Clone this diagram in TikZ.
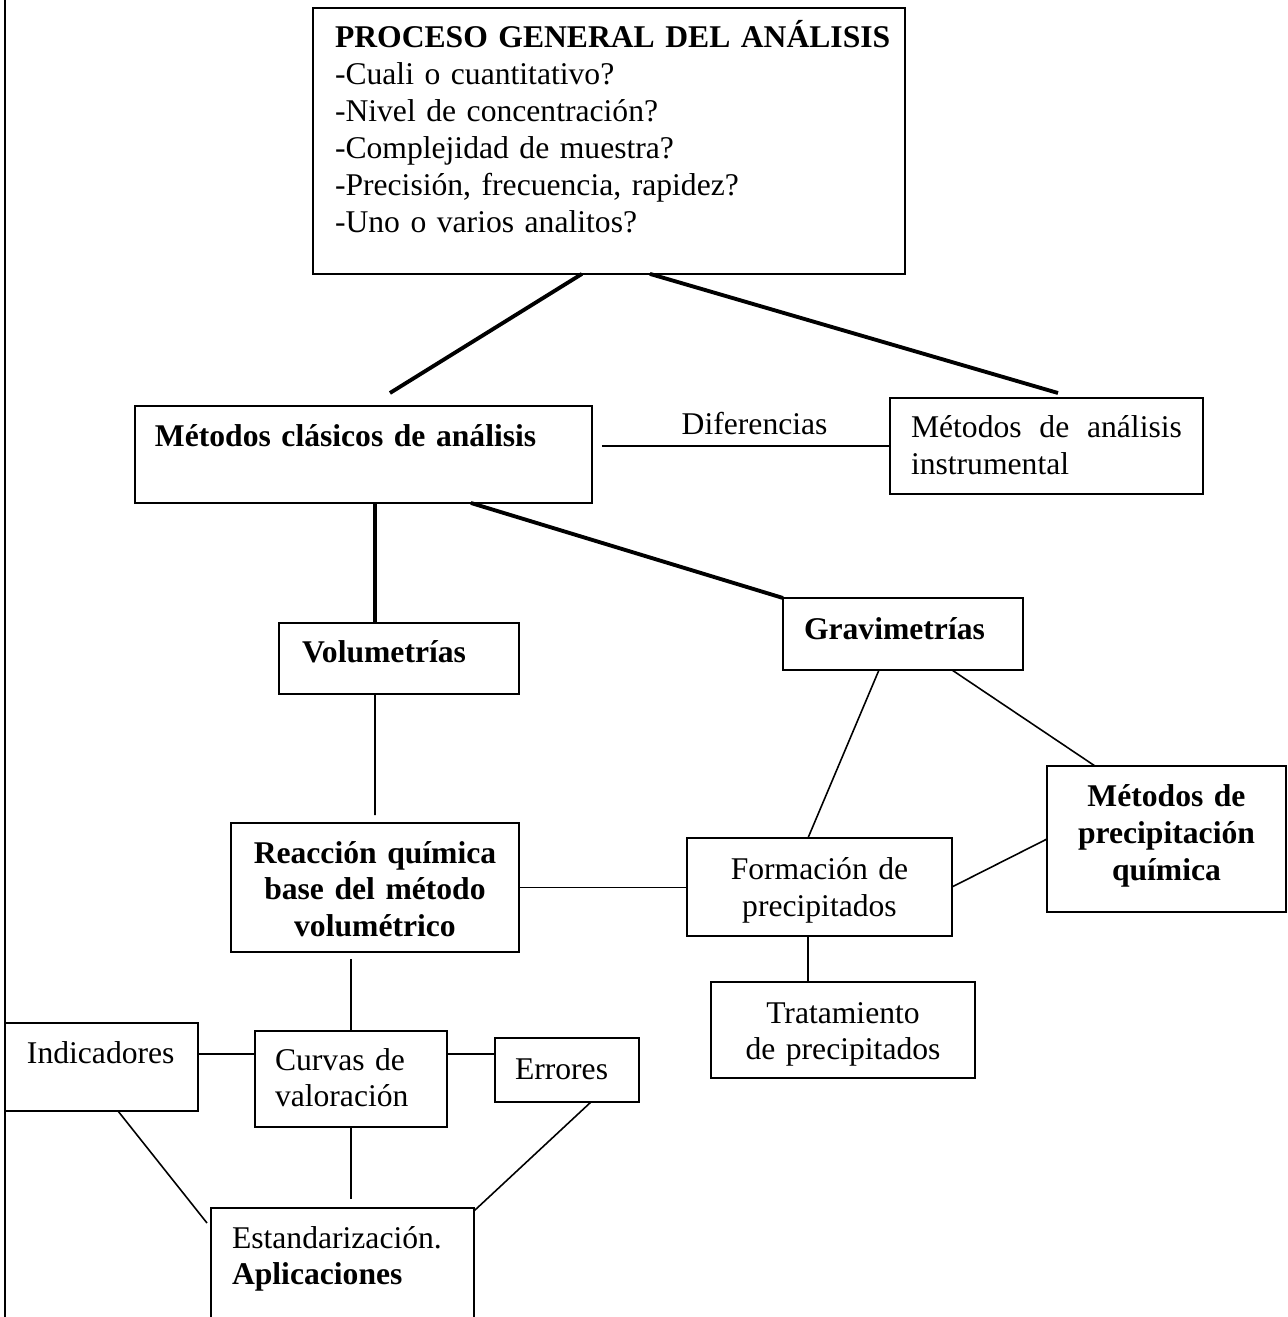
\documentclass[tikz,border=0pt]{standalone}
\usepackage{fontspec}
\setmainfont{Liberation Serif}
\newcommand{\fs}{\fontsize{18}{21.05}\selectfont}
\newcommand{\tstrut}[1]{\rule{0pt}{#1}}
\newcommand{\bstrut}[1]{\rule[-#1]{0pt}{#1}}

\begin{document}
\begin{tikzpicture}[x=0.02cm, y=-0.02cm,
    box/.style={draw, line width=1.1pt, anchor=north west, inner ysep=0pt, outer sep=0pt, font=\fs},
    heavy/.style={line width=2.2pt},
    link/.style={line width=0.9pt}]
  \clip (0,0) rectangle (1287,1317);

  % page rule
  \draw[line width=1.1pt] (5,0) -- (5,1317);

  % top box
  \node[box, inner xsep=.44cm, text width=10.96cm, align=left] (proceso) at (313,8)
    {\tstrut{.8cm}\mbox{\textbf{PROCESO GENERAL DEL ANÁLISIS}}\\
     -Cuali o cuantitativo?\\
     -Nivel de concentración?\\
     -Complejidad de muestra?\\
     \mbox{-Precisión, frecuencia, rapidez?}\\
     -Uno o varios analitos?\bstrut{.82cm}};

  % second level
  \node[box, inner xsep=.4cm, text width=8.34cm, align=left] (clasicos) at (135,406)
    {\tstrut{.82cm}\textbf{Métodos clásicos de análisis}\bstrut{1.12cm}};
  \node[box, inner xsep=.42cm, text width=5.42cm, align=justify] (instrumental) at (890,398)
    {\tstrut{.8cm}Métodos de análisis instrumental\bstrut{.38cm}};

  % volumetrias / gravimetrias
  \node[box, inner xsep=.46cm, text width=3.88cm, align=left] (volumetrias) at (279,623)
    {\tstrut{.8cm}\textbf{Volumetrías}\bstrut{.62cm}};
  \node[box, inner xsep=.42cm, text width=3.96cm, align=left] (gravimetrias) at (783,598)
    {\tstrut{.84cm}\textbf{Gravimetrías}\bstrut{.6cm}};

  \node[box, inner xsep=.2cm, text width=5.36cm, align=center] (reaccion) at (231,823)
    {\tstrut{.8cm}\textbf{Reacción química}\\
     \textbf{base del método}\\
     \textbf{volumétrico}\bstrut{.3cm}};
  \node[box, inner xsep=.2cm, text width=4.9cm, align=center] (formacion) at (687,838)
    {\tstrut{.84cm}Formación de\\precipitados\bstrut{.38cm}};
  \node[box, inner xsep=.2cm, text width=4.38cm, align=center] (precip) at (1047,766)
    {\tstrut{.82cm}\textbf{Métodos de}\\
     \textbf{precipitación}\\
     \textbf{química}\bstrut{.62cm}};
  \node[box, inner xsep=.2cm, text width=4.88cm, align=center] (tratamiento) at (711,982)
    {\tstrut{.82cm}Tratamiento\\de precipitados\bstrut{.36cm}};

  % bottom row
  \node[box, inner xsep=.44cm, text width=2.98cm, align=left] (indicadores) at (5,1023)
    {\tstrut{.8cm}Indicadores\bstrut{.96cm}};
  \node[box, inner xsep=.4cm, text width=3.04cm, align=left] (curvas) at (255,1031)
    {\tstrut{.78cm}Curvas de\\valoración\bstrut{.4cm}};
  \node[box, inner xsep=.4cm, text width=2.08cm, align=left] (errores) at (495,1038)
    {\tstrut{.82cm}Errores\bstrut{.46cm}};
  \node[box, inner xsep=.42cm, text width=4.42cm, align=left] (estandar) at (211,1208)
    {\tstrut{.8cm}Estandarización.\\\textbf{Aplicaciones}\bstrut{2.4cm}};

  % heavy connectors
  \draw[heavy] ([xshift=-.54cm]proceso.south) -- ([xshift=.53cm,yshift=.26cm]clasicos.north);
  \draw[heavy] ([xshift=.82cm]proceso.south) -- ([xshift=.23cm,yshift=.1cm]instrumental.north);
  \draw[heavy] ([xshift=.23cm]clasicos.south) -- ([xshift=.23cm]clasicos.south |- volumetrias.north);
  \draw[heavy] ([xshift=2.15cm]clasicos.south) -- (gravimetrias.north west);

  % thin connectors
  \draw[link] ([xshift=.2cm,yshift=.17cm]clasicos.east) -- ([yshift=.17cm]clasicos.east -| instrumental.west)
    node[pos=.53, above=.2cm, inner sep=0pt, font=\fs] (dif) {Diferencias};
  \draw[link] ([xshift=-.48cm]volumetrias.south) -- ([yshift=.16cm]reaccion.north);
  \draw[link] (reaccion.east) -- (reaccion.east -| formacion.west);
  \draw[link] ([xshift=-.48cm]gravimetrias.south) -- ([xshift=-.23cm]formacion.north);
  \draw[link] ([xshift=.98cm]gravimetrias.south) -- ([xshift=-1.43cm]precip.north);
  \draw[link] (formacion.east) -- (precip.west);
  \draw[link] ([xshift=-.23cm]formacion.south) -- ([xshift=-.23cm]formacion.south |- tratamiento.north);
  \draw[link] ([yshift=-.14cm]curvas.north |- reaccion.south) -- (curvas.north);
  \draw[link] ([yshift=.26cm]indicadores.east) -- ([yshift=.26cm]indicadores.east -| curvas.west);
  \draw[link] ([yshift=.5cm]curvas.east) -- ([yshift=.5cm]curvas.east -| errores.west);
  \draw[link] (curvas.south) -- ([yshift=.18cm]curvas.south |- estandar.north);
  \draw[link] ([xshift=.33cm]indicadores.south) -- ([xshift=-.08cm,yshift=-.3cm]estandar.north west);
  \draw[link] ([xshift=.48cm]errores.south) -- ([yshift=-.06cm]estandar.north east);
\end{tikzpicture}
\end{document}
